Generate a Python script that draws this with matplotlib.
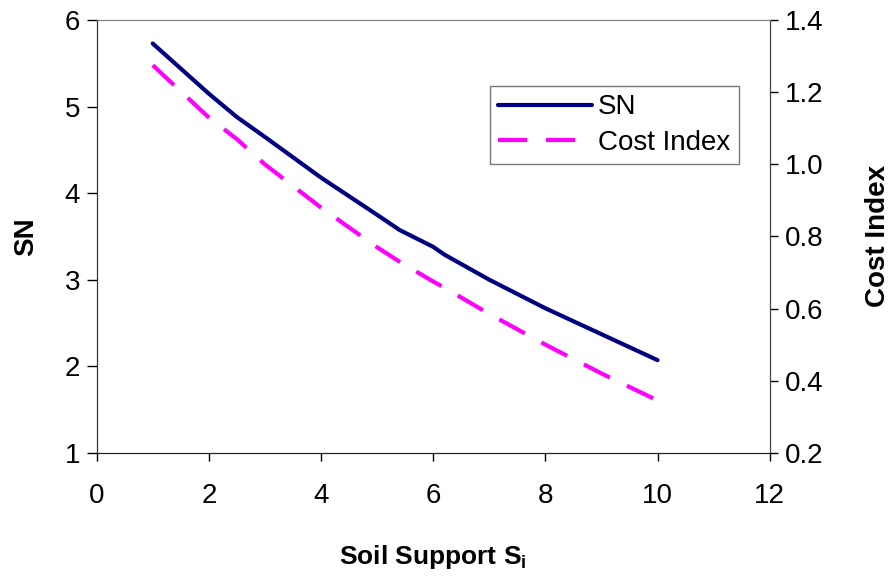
import matplotlib
matplotlib.use("Agg")
import matplotlib.pyplot as plt

plt.rcParams['font.family'] = ['Liberation Sans', 'DejaVu Sans']

# soil support values and the two series
soil_support = [1, 2, 2.5, 3, 4, 5, 5.4, 6, 6.2, 7, 8, 9, 10]
sn = [5.73, 5.15, 4.88, 4.65, 4.18, 3.75, 3.575, 3.38, 3.29, 3.0, 2.67, 2.37, 2.07]
cost_index = [1.275, 1.13, 1.07, 1.0, 0.88, 0.77, 0.73, 0.675, 0.658, 0.585, 0.50, 0.42, 0.345]

x_ticks = [0, 2, 4, 6, 8, 10, 12]
sn_ticks = [1, 2, 3, 4, 5, 6]
ci_ticks = [0.2, 0.4, 0.6, 0.8, 1.0, 1.2, 1.4]

fig = plt.figure(figsize=(8.95, 5.76), dpi=100)
ax = fig.add_axes([0.108, 0.214, 0.752, 0.751])
ax2 = ax.twinx()

l1, = ax.plot(soil_support, sn, color="#000080", lw=3.0, label="SN",
              solid_capstyle="round")
l2, = ax2.plot(soil_support, cost_index, color="#FF00FF", lw=3.0,
               dashes=(7, 4.5), label="Cost Index")

ax.set_xlim(0, 12)
ax.set_ylim(1, 6)
ax2.set_ylim(0.2, 1.4)
ax.set_xticks(x_ticks)
ax.set_yticks(sn_ticks)
ax2.set_yticks(ci_ticks)
ax2.set_yticklabels([f"{v:.1f}" for v in ci_ticks])

ax.tick_params(axis="y", labelsize=20, length=7, width=1, direction="out", pad=5)
ax2.tick_params(axis="y", labelsize=20, length=6, width=1, direction="out", pad=5)
ax.tick_params(axis="x", labelsize=20, length=6, width=1, direction="out", pad=16)

for a in (ax, ax2):
    a.spines["top"].set_color("#808080")
    a.spines["left"].set_color("#333333")
    a.spines["right"].set_color("#444444")
    a.spines["bottom"].set_color("#222222")

ax.set_ylabel("SN", fontsize=20, fontweight="bold", labelpad=18)
ax2.set_ylabel("Cost Index", fontsize=20, fontweight="bold", labelpad=30)
ax.set_xlabel("Soil Support S$_\\mathregular{i}$", fontsize=19, fontweight="bold",
              labelpad=24)

leg = ax.legend(handles=[l1, l2], loc="upper left", bbox_to_anchor=(0.584, 0.848),
                borderaxespad=0, fontsize=20, frameon=True, fancybox=False,
                handlelength=3.4, handletextpad=0.2, borderpad=0.3,
                labelspacing=0.35)
leg.get_frame().set_edgecolor("#555555")
leg.get_frame().set_linewidth(1)

fig.savefig("out.png", dpi=100)
